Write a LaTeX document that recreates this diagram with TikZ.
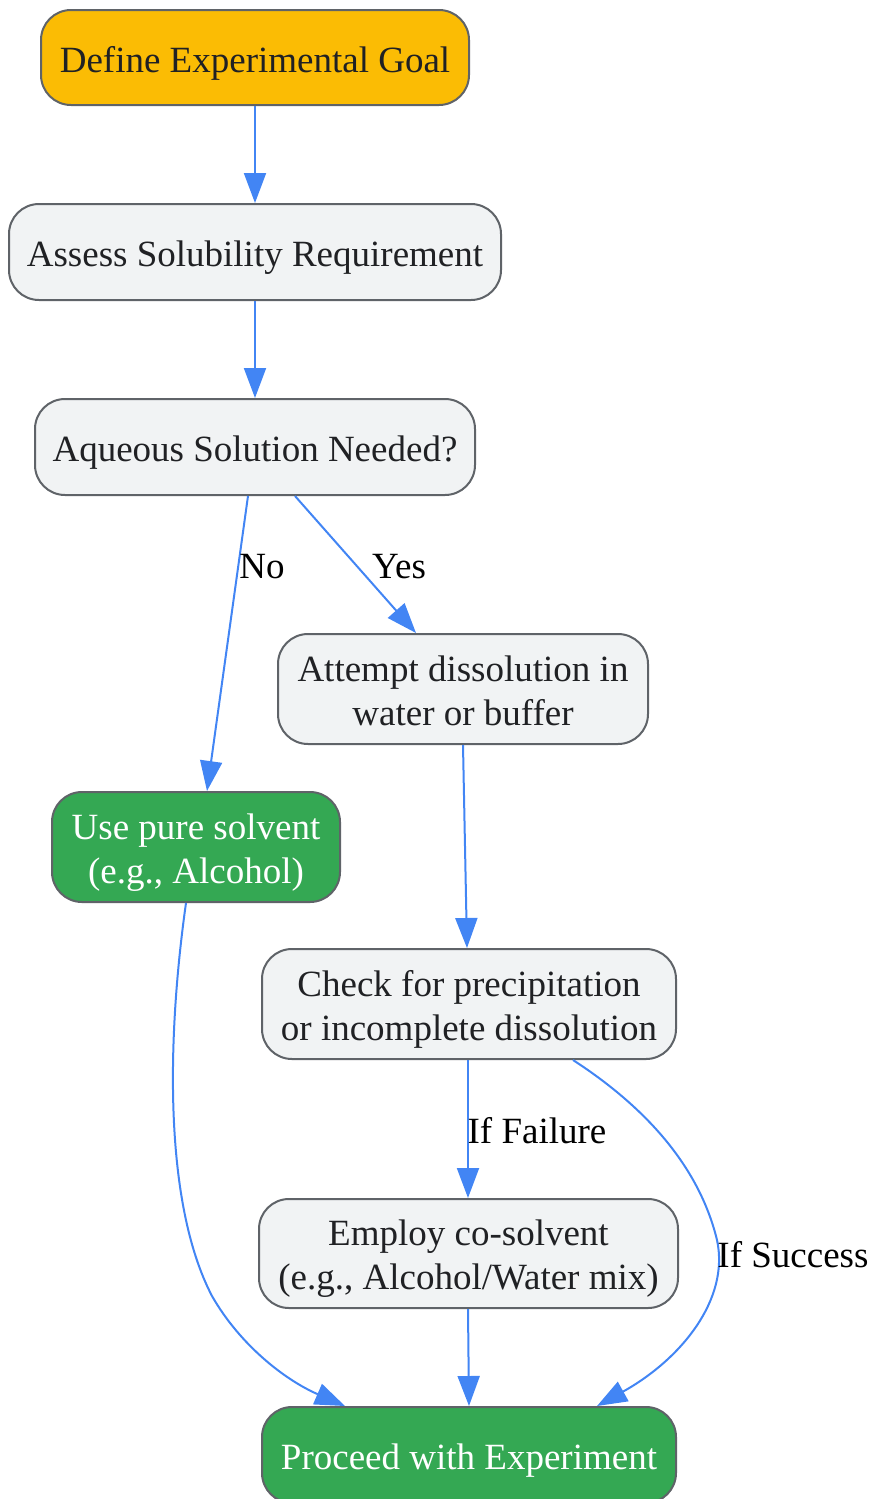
\documentclass[tikz,border=0pt]{standalone}
\usepackage{fontspec}
\setmainfont{Liberation Serif}
\usetikzlibrary{arrows.meta,calc}
\definecolor{boxfill}{HTML}{F1F3F4}
\definecolor{boxline}{HTML}{5F6368}
\definecolor{edgeblue}{HTML}{4285F4}
\definecolor{goalyellow}{HTML}{FBBC04}
\definecolor{okgreen}{HTML}{34A853}
\definecolor{txt}{HTML}{202124}
\tikzset{
  box/.style={draw=boxline, line width=2pt, rounded corners=30pt, fill=boxfill,
    text=txt, align=center, inner sep=0pt, font=\fontsize{37}{44}\selectfont,
    text height=37pt, text depth=8pt},
  twoline/.style={text height=80pt, text depth=8pt},
  goalbox/.style={box, fill=goalyellow},
  greenbox/.style={box, fill=okgreen, text=white},
  edge/.style={draw=edgeblue, line width=2pt, -{Triangle[length=30pt,width=22pt]}},
  elabel/.style={text=black, inner sep=0pt, font=\fontsize{37}{44}\selectfont}
}
\begin{document}
\begin{tikzpicture}[x=1pt,y=-1pt]
\useasboundingbox (0,0) rectangle (872,1499);
\node[goalbox, minimum width=428pt, minimum height=95pt] (n1) at (255,57.5) {Define Experimental Goal};
\node[box, minimum width=492pt, minimum height=96pt] (n2) at (255,252) {Assess Solubility Requirement};
\node[box, minimum width=440pt, minimum height=96pt] (n3) at (255,447) {Aqueous Solution Needed?};
\node[box, twoline, minimum width=370pt, minimum height=110pt] (n4) at (463,689) {Attempt dissolution in\\water or buffer};
\node[greenbox, twoline, minimum width=288pt, minimum height=110pt] (n5) at (196,847) {Use pure solvent\\(e.g., Alcohol)};
\node[box, twoline, minimum width=414pt, minimum height=110pt] (n6) at (469,1004) {Check for precipitation\\or incomplete dissolution};
\node[box, twoline, minimum width=419pt, minimum height=109pt] (n7) at (468.5,1253.5) {Employ co-solvent\\(e.g., Alcohol/Water mix)};
\node[greenbox, minimum width=414pt, minimum height=96pt] (n8) at (469,1455) {Proceed with Experiment};

\draw[edge] (n1.south) -- (n2.north);
\draw[edge] (n2.south) -- (n3.north);
\draw[edge] ([xshift=-7pt]n3.south) -- ([xshift=11pt]n5.north);
\draw[edge] ([xshift=40pt]n3.south) -- ([xshift=-47pt]n4.north);
\draw[edge] (n4.south) -- ([xshift=-2pt]n6.north);
\draw[edge] ([xshift=-1pt]n6.south) -- ([xshift=-0.5pt]n7.north);
\draw[edge] ([xshift=-0.5pt]n7.south) -- (n8.north);
\draw[edge] ([xshift=-10pt]n5.south) .. controls (168,1030) and (162,1200) .. (212,1296)
   .. controls (240,1345) and (285,1380) .. ([xshift=-124pt]n8.north);
\draw[edge] ([xshift=104pt]n6.south) .. controls (650,1110) and (700,1170) .. (717,1240)
   .. controls (730,1300) and (680,1360) .. ([xshift=128pt]n8.north);

\node[elabel] (lno) at (262,567) {No};
\node[elabel] (lyes) at (399,567) {Yes};
\node[elabel] (lfail) at (537,1131) {If Failure};
\node[elabel] (lsucc) at (793,1255) {If Success};
\end{tikzpicture}
\end{document}
